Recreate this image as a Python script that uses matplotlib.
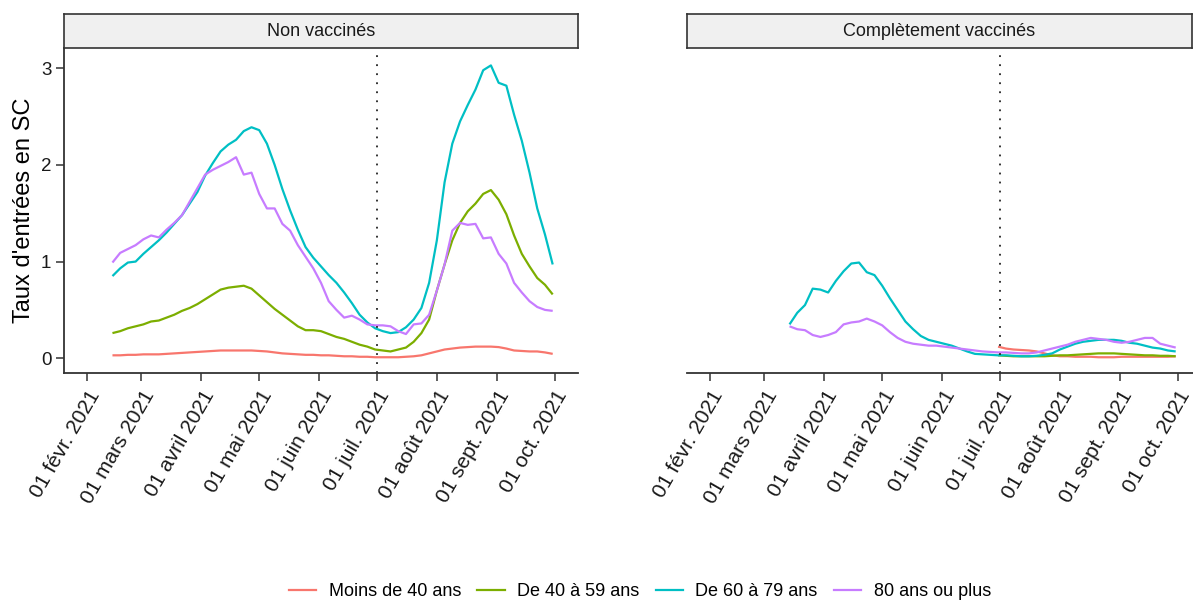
import numpy as np
import pandas as pd
import matplotlib
matplotlib.use("Agg")
import matplotlib.pyplot as plt
from matplotlib.lines import Line2D

plt.rcParams["font.family"] = ["Liberation Sans", "DejaVu Sans"]

# daily series sampled every 4 days, 14 Feb -> 30 Sep 2021
dates = pd.date_range("2021-02-14", periods=58, freq="4D")
pad_mar = [np.nan] * 7    # vaccinated 60+ series start mid-March
pad_jul = [np.nan] * 34   # vaccinated <60 series start 1 July

groups = ["Moins de 40 ans", "De 40 à 59 ans", "De 60 à 79 ans", "80 ans ou plus"]
colors = ["#F8766D", "#7CAE00", "#00BFC4", "#C77CFF"]
facets = ["Non vaccinés", "Complètement vaccinés"]

unvax_u40 = [0.03, 0.03, 0.035, 0.035, 0.04, 0.04, 0.04, 0.045, 0.05, 0.055,
             0.06, 0.065, 0.07, 0.075, 0.08, 0.08, 0.08, 0.08, 0.08, 0.075,
             0.07, 0.06, 0.05, 0.045, 0.04, 0.035, 0.035, 0.03, 0.03, 0.025,
             0.02, 0.02, 0.015, 0.015, 0.01, 0.01, 0.01, 0.01, 0.015, 0.02,
             0.03, 0.05, 0.07, 0.09, 0.10, 0.11, 0.115, 0.12, 0.12, 0.12,
             0.115, 0.10, 0.08, 0.075, 0.07, 0.07, 0.06, 0.045]
unvax_40_59 = [0.26, 0.28, 0.31, 0.33, 0.35, 0.38, 0.39, 0.42, 0.45, 0.49,
               0.52, 0.56, 0.61, 0.66, 0.71, 0.73, 0.74, 0.75, 0.72, 0.65,
               0.58, 0.51, 0.45, 0.39, 0.33, 0.29, 0.29, 0.28, 0.25, 0.22,
               0.20, 0.17, 0.14, 0.12, 0.09, 0.08, 0.07, 0.09, 0.11, 0.17,
               0.26, 0.40, 0.70, 0.97, 1.22, 1.40, 1.52, 1.60, 1.70, 1.74,
               1.64, 1.49, 1.27, 1.08, 0.95, 0.83, 0.76, 0.66]
unvax_60_79 = [0.85, 0.93, 0.99, 1.00, 1.08, 1.15, 1.22, 1.30, 1.39, 1.48,
               1.60, 1.72, 1.89, 2.02, 2.14, 2.21, 2.26, 2.35, 2.39, 2.36,
               2.22, 2.00, 1.75, 1.53, 1.33, 1.15, 1.04, 0.95, 0.86, 0.78,
               0.68, 0.57, 0.45, 0.37, 0.31, 0.28, 0.26, 0.27, 0.32, 0.40,
               0.52, 0.78, 1.22, 1.82, 2.22, 2.45, 2.62, 2.78, 2.98, 3.03,
               2.85, 2.82, 2.52, 2.25, 1.92, 1.55, 1.28, 0.97]
unvax_80 = [0.99, 1.09, 1.13, 1.17, 1.23, 1.27, 1.25, 1.33, 1.40, 1.48,
            1.62, 1.76, 1.90, 1.95, 1.99, 2.03, 2.08, 1.90, 1.92, 1.70,
            1.55, 1.55, 1.39, 1.32, 1.17, 1.05, 0.93, 0.78, 0.59, 0.50,
            0.42, 0.44, 0.40, 0.35, 0.34, 0.34, 0.33, 0.28, 0.25, 0.35,
            0.36, 0.45, 0.70, 0.97, 1.32, 1.40, 1.38, 1.39, 1.24, 1.25,
            1.08, 0.98, 0.78, 0.68, 0.59, 0.53, 0.50, 0.49]

vax_u40 = pad_jul + [0.12, 0.10, 0.09, 0.085, 0.08, 0.07, 0.05, 0.03, 0.02, 0.02,
                     0.015, 0.015, 0.015, 0.01, 0.01, 0.01, 0.015, 0.015, 0.015, 0.015,
                     0.015, 0.015, 0.015, 0.02]
vax_40_59 = pad_jul + [0.03, 0.025, 0.02, 0.02, 0.02, 0.02, 0.02, 0.025, 0.03, 0.03,
                       0.035, 0.04, 0.045, 0.05, 0.05, 0.05, 0.045, 0.04, 0.035, 0.03,
                       0.03, 0.025, 0.025, 0.02]
vax_60_79 = pad_mar + [0.35, 0.47, 0.55, 0.72, 0.71, 0.68, 0.80, 0.90, 0.98, 0.99,
                       0.89, 0.86, 0.75, 0.62, 0.50, 0.38, 0.30, 0.23, 0.19, 0.17,
                       0.15, 0.13, 0.10, 0.07, 0.045, 0.04, 0.035, 0.03, 0.03, 0.025,
                       0.02, 0.02, 0.025, 0.035, 0.05, 0.09, 0.12, 0.15, 0.17, 0.18,
                       0.19, 0.19, 0.19, 0.18, 0.16, 0.15, 0.13, 0.11, 0.10, 0.08, 0.07]
vax_80 = pad_mar + [0.33, 0.30, 0.29, 0.24, 0.22, 0.24, 0.27, 0.35, 0.37, 0.38,
                    0.41, 0.38, 0.34, 0.27, 0.21, 0.17, 0.15, 0.14, 0.13, 0.13,
                    0.12, 0.11, 0.10, 0.09, 0.08, 0.07, 0.065, 0.06, 0.06, 0.055,
                    0.05, 0.05, 0.06, 0.08, 0.10, 0.12, 0.14, 0.17, 0.19, 0.21,
                    0.20, 0.19, 0.17, 0.16, 0.17, 0.19, 0.21, 0.21, 0.15, 0.13, 0.11]

panel_series = [[unvax_u40, unvax_40_59, unvax_60_79, unvax_80],
                [vax_u40, vax_40_59, vax_60_79, vax_80]]

tick_dates = pd.to_datetime(["2021-02-01", "2021-03-01", "2021-04-01", "2021-05-01",
                             "2021-06-01", "2021-07-01", "2021-08-01", "2021-09-01",
                             "2021-10-01"])
tick_labels = ["01 févr. 2021", "01 mars 2021", "01 avril 2021", "01 mai 2021",
               "01 juin 2021", "01 juil. 2021", "01 août 2021", "01 sept. 2021",
               "01 oct. 2021"]
vline_date = pd.Timestamp("2021-07-01")

W, H = 1193, 600
fig = plt.figure(figsize=(W / 100, H / 100), dpi=100)

ax_w = 514
panel_lefts = [64, 687]
strip_widths = [514, W - 1 - 687]
panel_top, panel_bottom = 48, 373
strip_top = 14
axis_col = "#333333"

x0 = tick_dates[0] - pd.Timedelta(days=12.1)
x1 = tick_dates[-1] + pd.Timedelta(days=12.1)

for i, (left, sw, title, series) in enumerate(zip(panel_lefts, strip_widths,
                                                   facets, panel_series)):
    ax = fig.add_axes([left / W, 1 - panel_bottom / H, ax_w / W,
                       (panel_bottom - panel_top) / H])
    for vals, col in zip(series, colors):
        ax.plot(dates, vals, color=col, lw=1.6, solid_capstyle="butt")
    ax.axvline(vline_date, color="#222222", lw=1.3, ls=(0, (1, 4)))

    ax.set_xlim(x0, x1)
    ax.set_ylim(-0.153, 3.21)
    ax.set_xticks(tick_dates)
    ax.set_xticklabels(tick_labels, rotation=60, ha="right", va="top",
                       rotation_mode="anchor", fontsize=15, color="#1a1a1a")
    ax.tick_params(axis="x", length=6, width=1.1, color=axis_col, pad=4)

    for s in ["top", "right"]:
        ax.spines[s].set_visible(False)
    ax.spines["bottom"].set_color(axis_col)
    ax.spines["bottom"].set_linewidth(1.3)

    if i == 0:
        ax.set_yticks([0, 1, 2, 3])
        ax.set_yticklabels(["0", "1", "2", "3"], fontsize=13.5, color="#1a1a1a")
        ax.tick_params(axis="y", length=6, width=1.1, color=axis_col, pad=3)
        ax.spines["left"].set_color(axis_col)
        ax.spines["left"].set_linewidth(1.3)
        ax.set_ylabel("Taux d'entrées en SC", fontsize=17, color="black")
        ax.yaxis.set_label_coords(-(left - 35) / ax_w, 0.5)
    else:
        ax.spines["left"].set_visible(False)
        ax.set_yticks([])

    # facet strip above the panel
    sax = fig.add_axes([left / W, 1 - panel_top / H, sw / W,
                        (panel_top - strip_top) / H])
    sax.set_facecolor("#F0F0F0")
    sax.set_xticks([])
    sax.set_yticks([])
    for sp in sax.spines.values():
        sp.set_color(axis_col)
        sp.set_linewidth(1.2)
    sax.text(0.5, 0.5, title, ha="center", va="center", fontsize=13,
             color="#1a1a1a", transform=sax.transAxes)

handles = [Line2D([], [], color=c, lw=1.6) for c in colors]
fig.legend(handles, groups, loc="center", ncol=4, frameon=False,
           bbox_to_anchor=(640 / W, 1 - 592 / H), fontsize=13,
           handlelength=1.5, handletextpad=0.7, columnspacing=0.9)

fig.savefig("out.png", dpi=100)
